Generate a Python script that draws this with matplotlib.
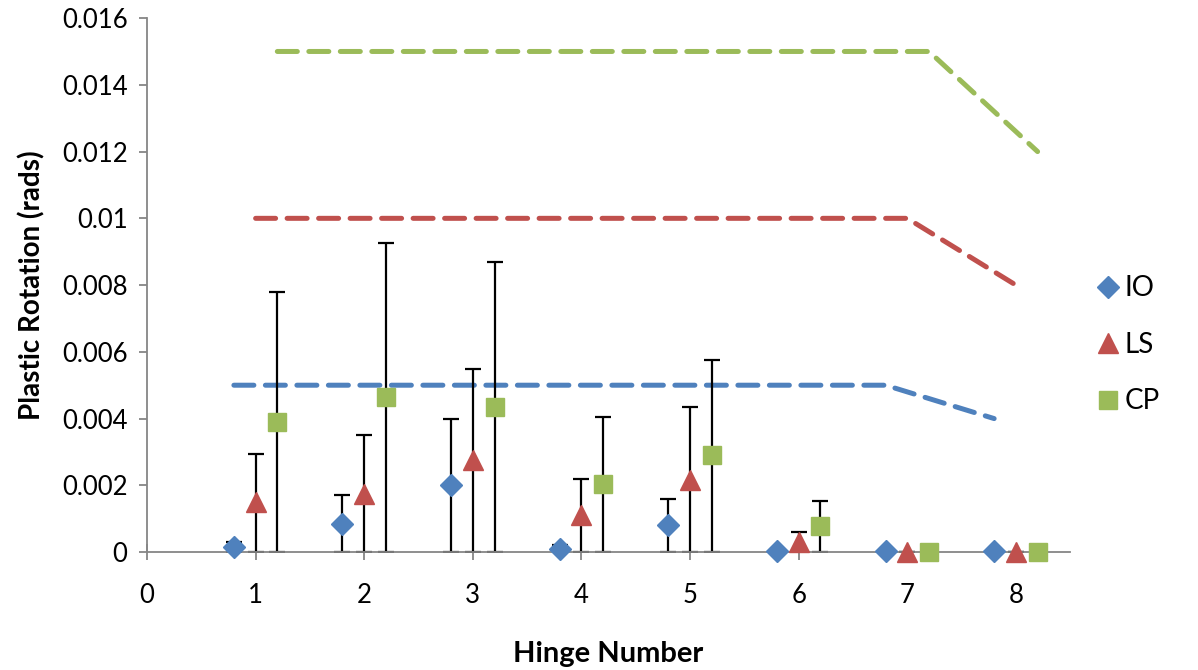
import matplotlib
import matplotlib.pyplot as plt
import numpy as np

matplotlib.use("Agg")

plt.rcParams["font.family"] = ["Lato", "DejaVu Sans"]

hinges = np.array([1, 2, 3, 4, 5, 6, 7, 8])

io_vals = [0.00015, 0.00085, 0.002, 0.0001, 0.0008, 0.00003, 0.00002, 0.00002]
io_upper = [0.0003, 0.0017, 0.004, 0.0002, 0.0016, 0.00006, 0.00004, 0.00004]
ls_vals = [0.0015, 0.00175, 0.00275, 0.0011, 0.00215, 0.0003, 0.0, 0.0]
ls_upper = [0.00295, 0.0035, 0.0055, 0.00218, 0.00435, 0.0006, 0.0, 0.0]
cp_vals = [0.0039, 0.00465, 0.00435, 0.00205, 0.0029, 0.00078, 0.0, 0.0]
cp_upper = [0.0078, 0.00925, 0.0087, 0.00405, 0.00575, 0.00152, 0.0, 0.0]

limit_hinges = [1, 7, 8]
io_limit = [0.005, 0.005, 0.004]
ls_limit = [0.01, 0.01, 0.008]
cp_limit = [0.015, 0.015, 0.012]

series = [
    ("IO", io_vals, io_upper, io_limit, -0.2, "#4F81BD", "D", 11.5),
    ("LS", ls_vals, ls_upper, ls_limit, 0.0, "#C0504D", "^", 15),
    ("CP", cp_vals, cp_upper, cp_limit, 0.2, "#9BBB59", "s", 13.5),
]

fig = plt.figure(figsize=(11.98, 6.70), dpi=100)
ax = fig.add_axes([0.1227, 0.176, 0.7706, 0.797])

for name, vals, upper, limit, off, color, marker, ms in series:
    x = hinges + off
    vals = np.array(vals)
    err_hi = np.array(upper) - vals
    ax.errorbar(x, vals, yerr=[vals, err_hi], fmt="none", ecolor="black",
                elinewidth=1.6, capsize=6, capthick=1.6, zorder=2)
    ax.plot(x, vals, linestyle="none", marker=marker, markersize=ms,
            color=color, markeredgecolor=color, label=name, zorder=3,
            clip_on=False)
    ax.plot(np.array(limit_hinges) + off, limit, color=color, linewidth=3.6,
            linestyle=(0, (4.0, 2.3)), dash_capstyle="round", zorder=1)

ax.set_xlim(0, 8.5)
ax.set_ylim(0, 0.016)
ax.set_xticks(range(0, 9))
ax.set_yticks(np.arange(0, 0.0161, 0.002))
ax.set_yticklabels(["0", "0.002", "0.004", "0.006", "0.008", "0.01",
                    "0.012", "0.014", "0.016"])

for side in ["top", "right"]:
    ax.spines[side].set_visible(False)
for side in ["left", "bottom"]:
    ax.spines[side].set_color("#868686")
    ax.spines[side].set_linewidth(1.3)
ax.tick_params(axis="both", colors="#868686", labelcolor="black",
               labelsize=18.5, length=6, width=1.3)
ax.tick_params(axis="x", direction="inout", length=12, pad=16)
ax.tick_params(axis="y", direction="out", pad=8)

ax.set_xlabel("Hinge Number", fontsize=21, fontweight="bold", labelpad=24)
ax.set_ylabel("Plastic Rotation (rads)", fontsize=20, fontweight="bold",
              labelpad=12)

ax.legend(loc="center left", bbox_to_anchor=(1.012, 0.388), frameon=False,
          fontsize=20, handletextpad=0.05, labelspacing=1.1, handlelength=1.1,
          borderaxespad=0)

fig.savefig("out.png", dpi=100)
